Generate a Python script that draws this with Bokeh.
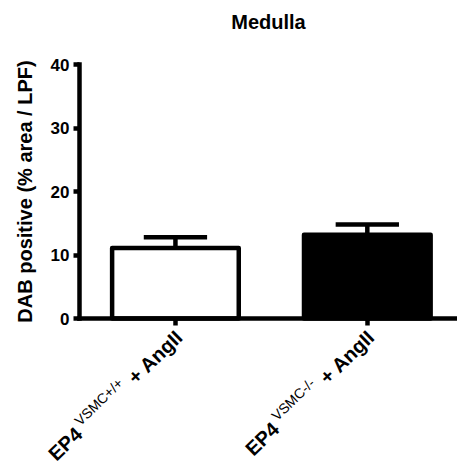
from bokeh.plotting import figure
from bokeh.models import Range1d, FixedTicker, ColumnDataSource
from bokeh.core.properties import value
from bokeh.embed import file_html
from bokeh.resources import INLINE
import math

# ---- data ----
title_text = "Medulla"
group_x = [1, 2]
main_texts = ["+ AngII", "+ AngII"]
sup_texts = ["VSMC+/+", "VSMC-/-"]
head_texts = ["EP4", "EP4"]
means = [11.1, 13.2]
sems = [1.7, 1.6]
fills = ["white", "black"]
y_ticks = [0, 10, 20, 30, 40]
y_lim = (0, 40)

FONT = "Liberation Sans"
W, H = 457, 461
F_LEFT, F_TOP, F_BOTTOM = 79, 64, 318      # where the axes sit (px)
X0, X1 = 0.5, 2.47                          # category span drawn by the x axis
ppu = (W - F_LEFT) / (X1 - X0)              # px per x unit
ppy = (F_BOTTOM - F_TOP) / (y_lim[1] - y_lim[0])  # px per y unit
XS = X0 - F_LEFT / ppu
YE = y_lim[1] + F_TOP / ppy
YS = y_lim[0] - (H - F_BOTTOM) / ppy


def sy(s):
    """screen px (from top) -> y data"""
    return y_lim[1] + (F_TOP - s) / ppy


p = figure(width=W, height=H, output_backend="svg", toolbar_location=None,
           x_range=Range1d(XS, X1), y_range=Range1d(YS, YE),
           min_border_left=0, min_border_right=0, min_border_top=0, min_border_bottom=0)
p.outline_line_color = None
p.xgrid.visible = False
p.ygrid.visible = False

# y axis (fixed at the left end of the category span)
ya = p.yaxis[0]
ya.fixed_location = X0
ya.bounds = y_lim
ya.ticker = FixedTicker(ticks=y_ticks)
ya.axis_label = "DAB positive (% area / LPF)"
ya.axis_label_text_font = FONT
ya.axis_label_text_font_size = "20px"
ya.axis_label_text_font_style = "bold"
ya.axis_label_text_color = "black"
ya.axis_label_standoff = 12
ya.major_label_text_font = FONT
ya.major_label_text_font_size = "17px"
ya.major_label_text_font_style = "bold"
ya.major_label_text_color = "black"
ya.major_label_standoff = 4
ya.axis_line_width = 4.5
ya.axis_line_cap = "square"
ya.major_tick_line_width = 4.5
ya.major_tick_out = 6
ya.major_tick_in = 0
ya.minor_tick_line_color = None

# x axis (fixed at y = 0)
xa = p.xaxis[0]
xa.fixed_location = y_lim[0]
xa.bounds = (X0, X1)
xa.ticker = FixedTicker(ticks=group_x)
xa.major_label_overrides = {1: "", 2: ""}
xa.major_label_text_font_size = "0px"
xa.major_label_standoff = 0
xa.axis_line_width = 4.5
xa.axis_line_cap = "square"
xa.major_tick_line_width = 4.5
xa.major_tick_out = 7
xa.major_tick_in = 0
xa.minor_tick_line_color = None

# error bars (upper only)
cap_half = 0.165
tops = [m + s for m, s in zip(means, sems)]
err = ColumnDataSource(dict(x=group_x, y0=means, y1=tops,
                            cx0=[x - cap_half for x in group_x],
                            cx1=[x + cap_half for x in group_x]))
p.segment(x0="x", y0="y0", x1="x", y1="y1", source=err, line_color="black", line_width=4.5)
p.segment(x0="cx0", y0="y1", x1="cx1", y1="y1", source=err, line_color="black", line_width=4.5)

# bars
bars = ColumnDataSource(dict(x=group_x, top=means, fill=fills))
p.vbar(x="x", top="top", bottom=0, width=0.66, source=bars, fill_color="fill",
       line_color="black", line_width=4.5, line_join="round")

# title
p.text(x=[(X0 + X1) / 2], y=[sy(21)], text=[title_text], text_align="center",
       text_baseline="alphabetic", text_font=value(FONT), text_font_size="20px",
       text_font_style="bold", text_color="black")

# rotated composite category labels
ANG = 44
ca, sa = math.cos(math.radians(ANG)), math.sin(math.radians(ANG))
bold_px, sup_px = 20, 14
em = {"+ AngII": 3.362, "VSMC+/+": 4.335, "VSMC-/-": 3.833}
gap1, gap2, raise_px = 8, 4, 7
end_dx, end_sy = 4, 333      # baseline end of "+ AngII": px right of tick, screen y

main_src = dict(x=[], y=[], t=[])
sup_src = dict(x=[], y=[], t=[])
head_src = dict(x=[], y=[], t=[])
for gx, mt, st, ht in zip(group_x, main_texts, sup_texts, head_texts):
    main_src["x"].append(gx + end_dx / ppu)
    main_src["y"].append(sy(end_sy))
    main_src["t"].append(mt)
    d1 = em[mt] * bold_px + gap1
    sup_src["x"].append(gx + (end_dx - d1 * ca - raise_px * sa) / ppu)
    sup_src["y"].append(sy(end_sy + d1 * sa - raise_px * ca))
    sup_src["t"].append(st)
    d2 = d1 + em[st] * sup_px + gap2
    head_src["x"].append(gx + (end_dx - d2 * ca) / ppu)
    head_src["y"].append(sy(end_sy + d2 * sa))
    head_src["t"].append(ht)

for src, size, style in [(main_src, bold_px, "bold"), (sup_src, sup_px, "normal"),
                         (head_src, bold_px, "bold")]:
    p.text(x="x", y="y", text="t", source=ColumnDataSource(src),
           angle=ANG, angle_units="deg", text_align="right", text_baseline="alphabetic",
           text_font=value(FONT), text_font_size=f"{size}px", text_font_style=style,
           text_color="black")

open("out.html", "w").write(file_html(p, INLINE))
